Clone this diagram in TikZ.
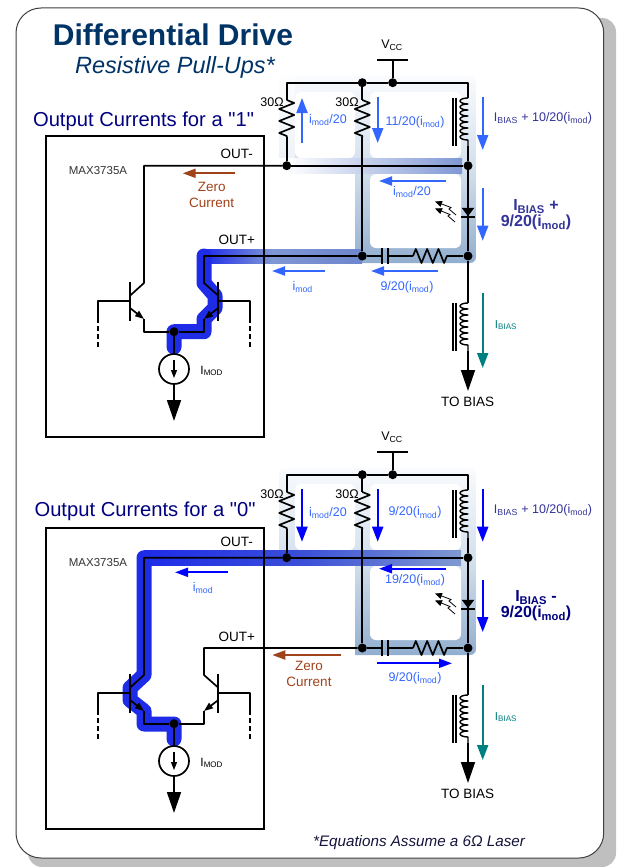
\documentclass[tikz,border=0pt]{standalone}
\usepackage{fontspec}
\setmainfont{Liberation Sans}
\newfontfamily\plainfont{Liberation Sans}
\usetikzlibrary{arrows.meta, positioning, backgrounds, decorations.pathmorphing}

\definecolor{titleblue}{HTML}{003366}
\definecolor{headnavy}{HTML}{000080}
\definecolor{flowlight}{HTML}{3366FF}
\definecolor{flowdeep}{HTML}{0000FF}
\definecolor{biasink}{HTML}{333399}
\definecolor{biasteal}{HTML}{008080}
\definecolor{zerobrown}{HTML}{A0421A}
\definecolor{bandpale}{HTML}{F9FBFD}
\definecolor{bandsoft}{HTML}{D3DFED}
\definecolor{bandmid}{HTML}{92AECF}
\definecolor{hotblue}{HTML}{1E2CE8}
\definecolor{coolblue}{HTML}{7F97D4}
\definecolor{coolend}{HTML}{6E86CC}
\definecolor{warmblue}{HTML}{3A4ED8}
\definecolor{warmend}{HTML}{7F9AD0}

\tikzstyle{wire} = [draw, black, line width=1.7pt, line join=round]
\tikzstyle{dot} = [circle, fill=black, inner sep=0pt, minimum size=9pt]
\tikzstyle{hot} = [draw=hotblue, line width=15pt, line join=round, line cap=round]
\tikzstyle{flow} = [draw, line width=2pt, -{Triangle[length=15pt,width=11pt]}]
\tikzstyle{flowh} = [draw, line width=2pt, -{Triangle[length=13pt,width=9pt]}]
\tikzstyle{lab} = [inner sep=0pt, font=\fontsize{12.5}{16}\selectfont, align=center]
\tikzstyle{tag} = [inner sep=0pt, font=\fontsize{13.5}{16}\selectfont, align=center]
\tikzstyle{big} = [inner sep=0pt, font=\fontsize{16}{16}\bfseries\selectfont, align=center]
\tikzstyle{res} = [decorate, decoration={zigzag, segment length=12pt, amplitude=7.5pt}]
\tikzstyle{coilv} = [decorate, line width=1.4pt, decoration={bumps, segment length=12pt, amplitude=8pt, mirror}]
\tikzstyle{photon} = [line width=0.8pt, -{Triangle[length=7pt,width=6pt]}]

% free arrow between two named ends
\newcommand{\flowarrow}[4]{%
    \coordinate (#2-a) at #3;
    \coordinate (#2-b) at #4;
    \draw [#1] (#2-a) -- (#2-b);
}

% wiring shared by the two drawings
\newcommand{\drivenet}[2]{%
\begin{scope}[yshift=-#2pt]
    % Nodes
    \node [dot] (#1mid) at (362.3,82.7) {};
    \node [dot] (#1vcc) at (392.7,82.7) {};
    \node [dot] (#1outl) at (286.7,165.7) {};
    \node [dot] (#1outr) at (468,165.7) {};
    \node [dot] (#1plusl) at (362.3,256) {};
    \node [dot] (#1plusr) at (468,256) {};
    \node [dot] (#1tail) at (174,331.7) {};
    \node [circle, draw, line width=1.7pt, minimum size=30pt, inner sep=0pt] (#1src) at (174,369) {};
    \node [lab, font=\fontsize{12}{14}\selectfont] (#1imod) at (211.7,371) {I\textsubscript{MOD}};
    \node [lab] (#1vcclab) at (392,45) {V\textsubscript{CC}};
    \node [lab] (#1ohma) at (272,102) {30Ω};
    \node [lab] (#1ohmb) at (347,102) {30Ω};
    \node [tag] (#1tobias) at (467.7,402) {TO BIAS};
    \node [lab, font=\fontsize{11.5}{14}\selectfont, biasteal] (#1ibias) at (506,325) {I\textsubscript{BIAS}};
    \node [draw, line width=1.7pt, minimum width=218.6pt, minimum height=301pt, inner sep=0pt] (#1chip) at (155,286.2) {};

    \coordinate (#1cl) at (286.7,82.7);
    \coordinate (#1cr) at (468,82.7);
    \coordinate (#1bar) at (392.7,60);
    \coordinate (#1resa) at (286.7,100);
    \coordinate (#1resb) at (286.7,137);
    \coordinate (#1resc) at (362.3,100);
    \coordinate (#1resd) at (362.3,137);
    \coordinate (#1inda) at (468,98);
    \coordinate (#1indb) at (468,146);
    \coordinate (#1indc) at (468,303);
    \coordinate (#1indd) at (468,351);
    \coordinate (#1diode) at (468,212);
    \coordinate (#1capa) at (381.7,256);
    \coordinate (#1capb) at (388,256);
    \coordinate (#1resm) at (413,256);
    \coordinate (#1resn) at (447,256);
    \coordinate (#1biasend) at (468,391);
    \coordinate (#1gnd) at (174,421);
    \coordinate (#1cola) at (144,165.7);
    \coordinate (#1colb) at (144,283);
    \coordinate (#1qac) at (130,295.7);
    \coordinate (#1qae) at (130,308);
    \coordinate (#1emita) at (144,319);
    \coordinate (#1emitb) at (144,331.7);
    \coordinate (#1colc) at (204,256);
    \coordinate (#1cold) at (204,283);
    \coordinate (#1qbc) at (218.3,295.7);
    \coordinate (#1qbe) at (218.3,308);
    \coordinate (#1emitc) at (204,319);
    \coordinate (#1emitd) at (204,331.7);
    \coordinate (#1basea) at (130,301);
    \coordinate (#1baseb) at (98.3,301);
    \coordinate (#1basec) at (98.3,318);
    \coordinate (#1based) at (98.3,348);
    \coordinate (#1basee) at (218.3,301);
    \coordinate (#1basef) at (250,301);
    \coordinate (#1baseg) at (250,318);
    \coordinate (#1baseh) at (250,348);

    % Supply
    \draw [wire] (#1bar) -- (#1vcc);
    \draw [wire] ([xshift=-15.7pt]#1bar) -- ([xshift=15.3pt]#1bar);
    \draw [wire] (#1resa) -- (#1cl) -- (#1mid) -- (#1vcc) -- (#1cr) -- (#1inda);
    \draw [wire] (#1mid) -- (#1resc);
    \draw [wire, res] (#1resa) -- (#1resb);
    \draw [wire, res] (#1resc) -- (#1resd);
    \draw [wire] (#1resb) -- (#1outl);
    \draw [wire] (#1resd) -- (#1plusl);
    \draw [wire, coilv] (#1inda) -- (#1indb);
    \draw [wire] (#1indb) -- (#1outr);
    \draw [wire] ([xshift=-15.3pt]#1inda) -- ([xshift=-15.3pt]#1indb);
    \draw [wire] ([xshift=-11.8pt]#1inda) -- ([xshift=-11.8pt]#1indb);

    % Laser and back termination
    \draw [wire] (#1outr) -- (#1plusr);
    \fill ([xshift=-6.3pt,yshift=4.2pt]#1diode) -- ([xshift=6.3pt,yshift=4.2pt]#1diode) -- ([yshift=-4.2pt]#1diode) -- cycle;
    \draw [wire] ([xshift=-7pt,yshift=-5pt]#1diode) -- ([xshift=7pt,yshift=-5pt]#1diode);
    \draw [photon] ([xshift=-12pt,yshift=-3pt]#1diode) -- ++(-7pt,6pt) -- ++(2pt,1.5pt) -- ++(-16pt,6pt);
    \draw [photon] ([xshift=-13pt,yshift=-10pt]#1diode) -- ++(-7pt,6pt) -- ++(2pt,1.5pt) -- ++(-15pt,6pt);
    \draw [wire] (#1plusl) -- (#1capa);
    \draw [wire] ([yshift=8pt]#1capa) -- ([yshift=-8pt]#1capa);
    \draw [wire] ([yshift=8pt]#1capb) -- ([yshift=-8pt]#1capb);
    \draw [wire] (#1capb) -- (#1resm);
    \draw [wire, res, decoration={segment length=11.3pt, amplitude=7pt}] (#1resm) -- (#1resn);
    \draw [wire] (#1resn) -- (#1plusr);
    \draw [wire] (#1plusr) -- (#1indc);
    \draw [wire, coilv] (#1indc) -- (#1indd);
    \draw [wire] ([xshift=-15.3pt]#1indc) -- ([xshift=-15.3pt]#1indd);
    \draw [wire] ([xshift=-11.8pt]#1indc) -- ([xshift=-11.8pt]#1indd);
    \draw [wire, -{Triangle[length=21pt,width=14pt]}] (#1indd) -- (#1biasend);

    % Transistor pair
    \draw [wire] (#1outl) -- (#1outr);
    \draw [wire] (#1outl) -- (#1cola) -- (#1colb) -- (#1qac);
    \draw [wire, -{Triangle[length=9pt,width=6.5pt]}] (#1qae) -- (#1emita);
    \draw [wire] (#1emita) -- (#1emitb) -- (#1tail);
    \draw [wire] (#1plusl) -- (#1colc) -- (#1cold) -- (#1qbc);
    \draw [wire, -{Triangle[length=9pt,width=6.5pt]}] (#1qbe) -- (#1emitc);
    \draw [wire] (#1emitc) -- (#1emitd) -- (#1tail);
    \draw [wire] ([yshift=19.3pt]#1basea) -- ([yshift=-20pt]#1basea);
    \draw [wire] ([yshift=19.3pt]#1basee) -- ([yshift=-20pt]#1basee);
    \draw [wire] (#1basea) -- (#1baseb) -- (#1basec);
    \draw [wire] (#1basee) -- (#1basef) -- (#1baseg);
    \draw [wire, dashed, dash pattern=on 5pt off 3pt] (#1basec) -- (#1based);
    \draw [wire, dashed, dash pattern=on 5pt off 3pt] (#1baseg) -- (#1baseh);

    % Current source
    \draw [wire] (#1tail) -- (#1src);
    \draw [wire, -{Triangle[length=21pt,width=14pt]}] (#1src) -- (#1gnd);
    \draw [line width=1.2pt, -{Triangle[length=8pt,width=6pt]}] ([yshift=9pt]#1src.center) -- ([yshift=-9pt]#1src.center);
\end{scope}}

% pale band with the white windows cut into it
\newcommand{\bandbase}[1]{%
\begin{scope}[yshift=-#1pt]
    \shade [rounded corners=6pt, top color=bandpale, bottom color=bandmid, middle color=bandsoft] (279,76) rectangle (476,263);
    \fill [white, rounded corners=6pt] (295,92) rectangle (355,158);
    \fill [white, rounded corners=6pt] (370,92) rectangle (461,158);
    \fill [white, rounded corners=6pt] (370,174) rectangle (461,248);
    \fill [white] (278,158) rectangle (355,264);
\end{scope}}

\begin{document}
\begin{tikzpicture}[x=1pt, y=-1pt]
    \useasboundingbox (0,0) rectangle (616,867);

    % Background
    \begin{pgfonlayer}{background}
        \fill [white] (0,0) rectangle (616,867);
        \fill [black!25, rounded corners=14pt] (28,18) rectangle (616,867);
        \draw [fill=white, draw=black!75, line width=1pt, rounded corners=25pt] (16,8) rectangle (603.7,858);

        \bandbase{0}
        \fill [white, opacity=0.6] (278,76) rectangle (295,158);
        \shade [left color=white, right color=coolblue] (286,158) rectangle (462,173);
        \shade [left color=hotblue, right color=coolblue] (204,249) rectangle (272,263);
        \shade [left color=coolblue, right color=coolend] (272,249) rectangle (362,263);
        \draw [hot] (204,256) -- (204,283) -- (215,295.7) -- (215,308) -- (204,319) -- (204,331.7) -- (174,331.7) -- (174,347);

        \bandbase{392}
        \shade [left color=hotblue, right color=warmblue] (144,550) rectangle (300,565.4);
        \shade [left color=warmblue, right color=warmend] (300,550) rectangle (461,565.4);
        \draw [hot] (144,557.7) -- (144,675) -- (130,688) -- (130,700) -- (144,711) -- (144,724) -- (174,724) -- (174,739);
    \end{pgfonlayer}

    % Titles
    \node [inner sep=0pt, titleblue, font=\fontsize{30}{30}\bfseries\selectfont] (title) at (173,35) {Differential Drive};
    \node [inner sep=0pt, titleblue, font=\fontsize{23.5}{24}\itshape\selectfont] (subtitle) at (175,67) {Resistive Pull-Ups*};
    \node [inner sep=0pt, headnavy, font=\fontsize{20.2}{22}\plainfont] (headone) at (143.5,121.5) {Output Currents for a "1"};
    \node [inner sep=0pt, headnavy, font=\fontsize{20.2}{22}\plainfont] (headzero) at (145,511.5) {Output Currents for a "0"};
    \node [inner sep=0pt, black!60!biasink, font=\fontsize{15.2}{16}\itshape\selectfont] (foot) at (419,843) {*Equations Assume a 6Ω Laser};

    \drivenet{a}{0}
    \drivenet{b}{392}

    % Labels, "1" case
    \node [tag] (aoutm) at (236.7,154) {OUT-};
    \node [tag] (aoutp) at (236.7,240) {OUT+};
    \node [lab, font=\fontsize{11.5}{14}\selectfont, black!80] (amax) at (98,170.7) {MAX3735A};
    \node [tag, zerobrown] (azero) at (211.7,195) {Zero\\Current};
    \node [lab, flowlight] (atxta) at (328,120) {i\textsubscript{mod}/20};
    \node [lab, flowlight] (atxtb) at (415,122) {11/20(i\textsubscript{mod})};
    \node [lab, biasink] (atxtc) at (543,118) {I\textsubscript{BIAS} + 10/20(i\textsubscript{mod})};
    \node [lab, flowlight] (atxtd) at (412,192) {i\textsubscript{mod}/20};
    \node [big, biasink] (atxte) at (536,215) {I\textsubscript{BIAS} +\\9/20(i\textsubscript{mod})};
    \node [lab, flowlight] (atxtg) at (302.7,287) {i\textsubscript{mod}};
    \node [lab, flowlight] (atxth) at (407,287) {9/20(i\textsubscript{mod})};

    % Arrows, "1" case
    \flowarrow{flow, flowlight}{afa}{(302,143)}{(302,98)}
    \flowarrow{flow, flowlight}{afb}{(377.7,97)}{(377.7,143)}
    \flowarrow{flow, flowlight}{afc}{(482.7,97)}{(482.7,150)}
    \flowarrow{flow, flowlight}{afd}{(482.7,188)}{(482.7,240.7)}
    \flowarrow{flowh, flowlight}{afe}{(445.7,181)}{(379,181)}
    \flowarrow{flowh, flowlight}{aff}{(325,271)}{(272,271)}
    \flowarrow{flowh, flowlight}{afg}{(438,271)}{(371,271)}
    \flowarrow{flowh, zerobrown}{afh}{(235,173.3)}{(182.7,173.3)}
    \flowarrow{flow, biasteal}{afi}{(482.7,293)}{(482.7,368)}

    % Labels, "0" case
    \node [tag] (boutm) at (236.7,542) {OUT-};
    \node [tag] (boutp) at (236.7,636.7) {OUT+};
    \node [lab, font=\fontsize{11.5}{14}\selectfont, black!80] (bmax) at (98,562.7) {MAX3735A};
    \node [tag, zerobrown] (bzero) at (309,674) {Zero\\Current};
    \node [lab, flowlight] (btxta) at (328,512.7) {i\textsubscript{mod}/20};
    \node [lab, flowlight] (btxtb) at (415,512.7) {9/20(i\textsubscript{mod})};
    \node [lab, biasink] (btxtc) at (543,510) {I\textsubscript{BIAS} + 10/20(i\textsubscript{mod})};
    \node [lab, flowlight] (btxtd) at (415,580) {19/20(i\textsubscript{mod})};
    \node [big, headnavy] (btxte) at (536,606) {I\textsubscript{BIAS} -\\9/20(i\textsubscript{mod})};
    \node [lab, flowlight] (btxtg) at (203,588) {i\textsubscript{mod}};
    \node [lab, flowlight] (btxth) at (415,678) {9/20(i\textsubscript{mod})};

    % Arrows, "0" case
    \flowarrow{flow, flowdeep}{bfa}{(302,489)}{(302,541.7)}
    \flowarrow{flow, flowdeep}{bfb}{(377.7,489)}{(377.7,541.7)}
    \flowarrow{flow, flowdeep}{bfc}{(482.7,489)}{(482.7,541.7)}
    \flowarrow{flow, flowdeep}{bfd}{(482.7,580)}{(482.7,632)}
    \flowarrow{flowh, flowdeep}{bfe}{(446,568.7)}{(379,568.7)}
    \flowarrow{flowh, flowdeep}{bff}{(227.7,572.3)}{(175,572.3)}
    \flowarrow{flowh, flowdeep}{bfg}{(377,663.3)}{(452,663.3)}
    \flowarrow{flowh, zerobrown}{bfh}{(341,655)}{(272.3,655)}
    \flowarrow{flow, biasteal}{bfi}{(482.7,685)}{(482.7,760)}
\end{tikzpicture}
\end{document}
